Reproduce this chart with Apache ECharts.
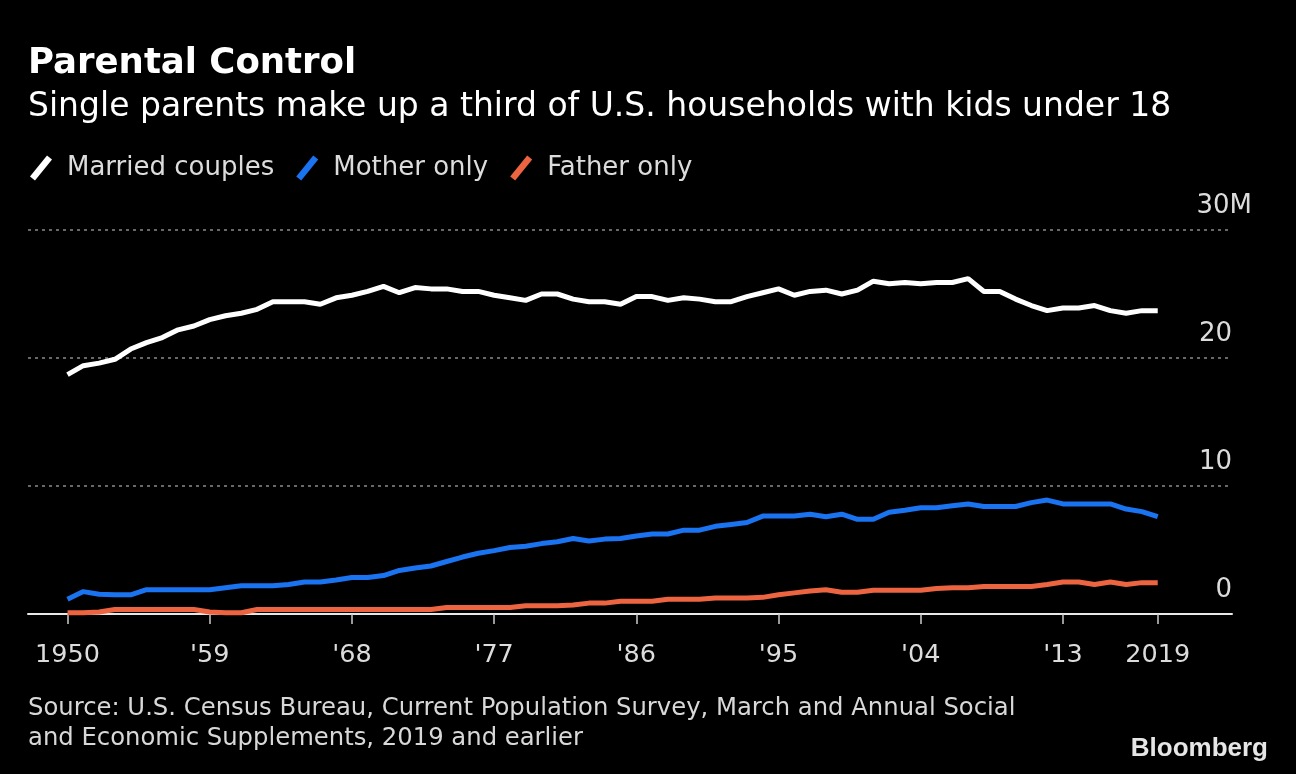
<!DOCTYPE html>
<html>
<head>
<meta charset="utf-8">
<script src="https://cdn.jsdelivr.net/npm/echarts@6/dist/echarts.min.js"></script>
<style>
html,body{margin:0;padding:0;background:#000;}
#chart{width:1296px;height:774px;}
</style>
</head>
<body>
<div id="chart"></div>
<script>
const years = [];
for (let y = 1950; y <= 2019; y++) years.push(y);

const marriedCouples = [
  18.7, 19.4, 19.6, 19.9, 20.7, 21.2, 21.6, 22.2, 22.5, 23.0,
  23.3, 23.5, 23.8, 24.4, 24.4, 24.4, 24.2, 24.7, 24.9, 25.2,
  25.6, 25.1, 25.5, 25.4, 25.4, 25.2, 25.2, 24.9, 24.7, 24.5,
  25.0, 25.0, 24.6, 24.4, 24.4, 24.2, 24.8, 24.8, 24.5, 24.7,
  24.6, 24.4, 24.4, 24.8, 25.1, 25.4, 24.9, 25.2, 25.3, 25.0,
  25.3, 26.0, 25.8, 25.9, 25.8, 25.9, 25.9, 26.2, 25.2, 25.2,
  24.6, 24.1, 23.7, 23.9, 23.9, 24.1, 23.7, 23.5, 23.7, 23.7
];
const motherOnly = [
  1.15, 1.75, 1.55, 1.5, 1.5, 1.9, 1.9, 1.9, 1.9, 1.9,
  2.05, 2.2, 2.2, 2.2, 2.3, 2.5, 2.5, 2.65, 2.85, 2.85,
  3.0, 3.4, 3.6, 3.75, 4.1, 4.45, 4.75, 4.95, 5.2, 5.3,
  5.5, 5.65, 5.9, 5.7, 5.85, 5.9, 6.1, 6.25, 6.25, 6.55,
  6.55, 6.85, 7.0, 7.15, 7.65, 7.65, 7.65, 7.8, 7.6, 7.8,
  7.4, 7.4, 7.95, 8.1, 8.3, 8.3, 8.45, 8.6, 8.4, 8.4,
  8.4, 8.7, 8.9, 8.6, 8.6, 8.6, 8.6, 8.2, 8.0, 7.6
];
const fatherOnly = [
  0.1, 0.1, 0.15, 0.35, 0.35, 0.35, 0.35, 0.35, 0.35, 0.15,
  0.1, 0.1, 0.35, 0.35, 0.35, 0.35, 0.35, 0.35, 0.35, 0.35,
  0.35, 0.35, 0.35, 0.35, 0.5, 0.5, 0.5, 0.5, 0.5, 0.65,
  0.65, 0.65, 0.7, 0.85, 0.85, 1.0, 1.0, 1.0, 1.15, 1.15,
  1.15, 1.25, 1.25, 1.25, 1.3, 1.5, 1.65, 1.8, 1.9, 1.7,
  1.7, 1.85, 1.85, 1.85, 1.85, 2.0, 2.05, 2.05, 2.15, 2.15,
  2.15, 2.15, 2.3, 2.5, 2.5, 2.3, 2.5, 2.3, 2.45, 2.45
];
const xTicks = [1950, 1959, 1968, 1977, 1986, 1995, 2004, 2013, 2019];
const xTickLabels = ['1950', "'59", "'68", "'77", "'86", "'95", "'04", "'13", '2019'];
const yTicks = [0, 10, 20, 30];
const yTickLabels = ['0', '10', '20', '30M'];

const FONT = "'DejaVu Sans', sans-serif";
const LOGO_FONT = "'Liberation Sans', Arial, sans-serif";
const colors = ['#ffffff', '#1a73f0', '#ec6540'];
const slash = 'path://M0,21 L17,0 L22,4 L5,25 Z';

const pair = arr => years.map((y, i) => [y, arr[i]]);

const chart = echarts.init(document.getElementById('chart'), null, {renderer: 'canvas'});
chart.setOption({
  backgroundColor: '#000',
  animation: false,
  textStyle: {fontFamily: FONT},
  title: [
    {text: 'Parental Control', left: 28, top: 46, padding: 0,
     textStyle: {color: '#fff', fontSize: 35.5, fontWeight: 'bold', fontFamily: FONT}},
    {text: 'Single parents make up a third of U.S. households with kids under 18', left: 28, top: 91, padding: 0,
     textStyle: {color: '#fff', fontSize: 33, fontWeight: 'normal', fontFamily: FONT}},
    {text: 'Source: U.S. Census Bureau, Current Population Survey, March and Annual Social\nand Economic Supplements, 2019 and earlier',
     left: 28, top: 694, padding: 0,
     textStyle: {color: '#d8d8d8', fontSize: 24.3, lineHeight: 30, fontWeight: 'normal', fontFamily: FONT}},
    {text: 'Bloomberg', right: 28, top: 736, padding: 0,
     textStyle: {color: '#e6e6e6', fontSize: 26, fontWeight: 'bold', fontFamily: LOGO_FONT}}
  ],
  legend: {
    left: 30, top: 155, padding: 0,
    itemWidth: 22, itemHeight: 25, itemGap: 22,
    icon: slash,
    textStyle: {color: '#dcdcdc', fontSize: 26, fontFamily: FONT, padding: [0, 0, 0, 10]},
    data: ['Married couples', 'Mother only', 'Father only']
  },
  grid: {left: 28, right: 64, top: 230, bottom: 160, containLabel: false},
  xAxis: {
    type: 'value',
    min: 1947.5, max: 2023.7,
    axisLine: {show: true, lineStyle: {color: '#e8e8e8', width: 2}},
    axisTick: {show: true, customValues: xTicks, length: 10, lineStyle: {color: '#cccccc', width: 1.5}},
    axisLabel: {
      customValues: xTicks,
      formatter: v => xTickLabels[xTicks.indexOf(v)],
      color: '#dcdcdc', fontSize: 25.5, margin: 28, fontFamily: FONT
    },
    splitLine: {show: false}
  },
  yAxis: {
    type: 'value',
    position: 'right',
    min: 0, max: 30, interval: 10,
    axisLine: {show: false},
    axisTick: {show: false},
    axisLabel: {
      inside: true, margin: -20,
      verticalAlign: 'bottom',
      padding: [0, 0, 11, 0],
      formatter: v => {
        const s = yTickLabels[yTicks.indexOf(v)];
        return s === '30M' ? s : '{n|' + s + '}';
      },
      rich: {n: {fontSize: 26, color: '#dcdcdc', fontFamily: FONT, padding: [0, 20, 0, 0]}},
      color: '#dcdcdc', fontSize: 26, fontFamily: FONT
    },
    splitLine: {show: true, lineStyle: {color: '#8a8a8a', width: 1.5, type: [3, 4]}}
  },
  series: [
    {name: 'Married couples', type: 'line', data: pair(marriedCouples), showSymbol: false,
     lineStyle: {color: colors[0], width: 5}, itemStyle: {color: colors[0]}, z: 3},
    {name: 'Mother only', type: 'line', data: pair(motherOnly), showSymbol: false,
     lineStyle: {color: colors[1], width: 5}, itemStyle: {color: colors[1]}, z: 3},
    {name: 'Father only', type: 'line', data: pair(fatherOnly), showSymbol: false,
     lineStyle: {color: colors[2], width: 5}, itemStyle: {color: colors[2]}, z: 3}
  ]
});
</script>
</body>
</html>
